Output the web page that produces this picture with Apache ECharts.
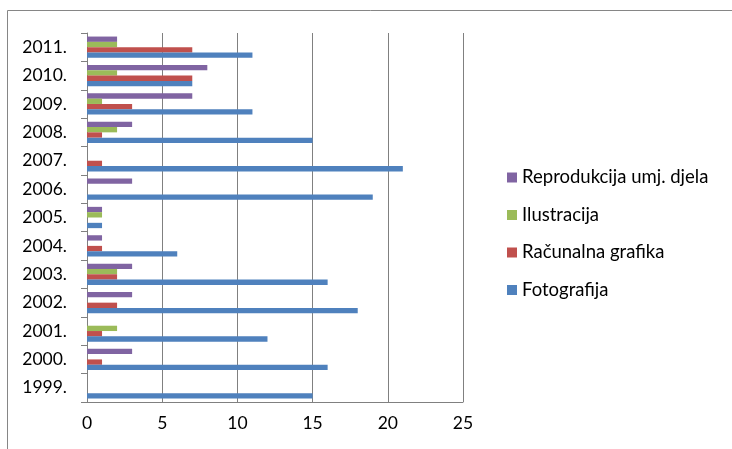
<!DOCTYPE html>
<html><head><meta charset="utf-8">
<script src="https://cdn.jsdelivr.net/npm/echarts@6/dist/echarts.min.js"></script>
<style>html,body{margin:0;padding:0;background:#fff}#c{width:732px;height:449px}</style>
</head><body><div id="c"></div>
<script>
var years = ['1999.','2000.','2001.','2002.','2003.','2004.','2005.','2006.','2007.','2008.','2009.','2010.','2011.'];
var fotografija = [15,16,12,18,16,6,1,19,21,15,11,7,11];
var racunalna = [0,1,1,2,2,1,0,0,1,1,3,7,7];
var ilustracija = [0,0,2,0,2,0,1,0,0,2,1,2,2];
var reprodukcija = [0,3,0,3,3,1,1,3,0,3,7,8,2];
var xTicks = [0,5,10,15,20,25];

var font = 'Lato';
var chart = echarts.init(document.getElementById('c'));
function s(name, data, color){
  return {name:name, type:'bar', data:data, barGap:'0%', barCategoryGap:'25%',
    itemStyle:{color:color}, animation:false};
}
chart.setOption({
  animation:false,
  graphic:[{type:'rect', shape:{x:7.5,y:10.5,width:760,height:460}, style:{fill:'none',stroke:'#868686',lineWidth:1}}],
  grid:{left:87, right:269, top:33, bottom:47},
  legend:{orient:'vertical', left:507, top:168, itemWidth:10, itemHeight:10, itemGap:18.5, padding:0,
    icon:'rect', textStyle:{fontFamily:font, fontSize:18.5, color:'#000'},
    data:['Reprodukcija umj. djela','Ilustracija','Računalna grafika','Fotografija']},
  xAxis:{type:'value', min:xTicks[0], max:xTicks[xTicks.length-1], interval:5,
    axisLine:{show:true, lineStyle:{color:'#808080'}}, axisTick:{show:false},
    splitLine:{show:true, lineStyle:{color:'#808080'}},
    axisLabel:{fontFamily:font, fontSize:17.5, color:'#000', margin:12}},
  yAxis:{type:'category', data:years,
    axisLine:{show:true, lineStyle:{color:'#808080'}},
    axisTick:{show:true, length:6, lineStyle:{color:'#808080'}},
    axisLabel:{fontFamily:font, fontSize:17.5, color:'#000', margin:20}},
  series:[
    s('Reprodukcija umj. djela', reprodukcija, '#8064A2'),
    s('Ilustracija', ilustracija, '#9BBB59'),
    s('Računalna grafika', racunalna, '#C0504D'),
    s('Fotografija', fotografija, '#4F81BD')
  ]
});
</script></body></html>
